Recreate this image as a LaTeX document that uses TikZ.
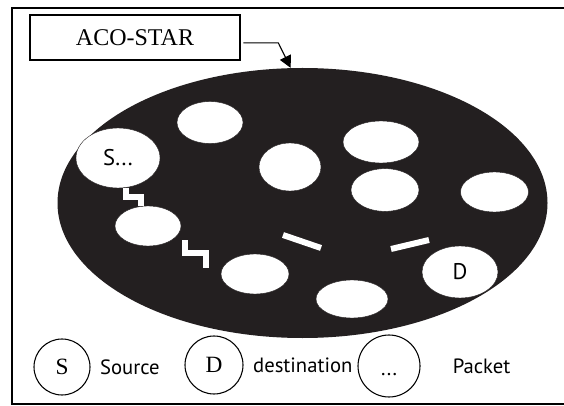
\documentclass[tikz,border=0pt]{standalone}
\usepackage{fontspec}
\setmainfont{Liberation Serif}
\newfontfamily\legfont{PT Sans}
\usetikzlibrary{shapes.geometric,arrows.meta,positioning}
\definecolor{blob}{HTML}{231F20}

\begin{document}
\begin{tikzpicture}[x=0.75pt,y=-0.75pt]
    \tikzset{hole/.style={ellipse,fill=white,draw=blob,line width=0.3pt,inner sep=0pt,
            font=\legfont\fontsize{17}{20}\selectfont},
        key/.style={circle,draw,line width=0.8pt,minimum size=42pt,inner sep=0pt,
            font=\fontsize{17.5}{20}\selectfont},
        keytext/.style={inner sep=0pt,font=\legfont\fontsize{15.5}{18}\selectfont},
        hop/.style={draw=white,line width=4.5pt},
        pointer/.style={-{Triangle[length=9pt,width=9pt]},line width=0.8pt}}
    \useasboundingbox (0,0) rectangle (564,406);
    \draw[line width=1pt] (566,8) -| (12,404) -- (566,404);
    \node[draw,line width=0.9pt,minimum width=157.5pt,minimum height=33.75pt,
        font=\fontsize{18}{21}\selectfont] (title) at (135,37.5) {ACO-STAR};
    \node[ellipse,fill=blob,minimum width=367.5pt,minimum height=202.5pt,inner sep=0pt] (net) at (302.5,203) {};
    \draw[pointer] ([xshift=2pt,yshift=-4pt]title.east) -- ++(35,0) -- (net.95);
    \node[hole,minimum width=49.5pt,minimum height=31.5pt] (h1) at (210,122.5) {};
    \node[hole,minimum width=63pt,minimum height=45pt] (s) at (118,158) {S...};
    \node[hole,minimum width=46.5pt,minimum height=36pt] (h3) at (290,167) {};
    \node[hole,minimum width=57pt,minimum height=31.5pt] (h4) at (381,142) {};
    \node[hole,minimum width=51pt,minimum height=32pt] (h5) at (385,190) {};
    \node[hole,minimum width=51pt,minimum height=30pt] (h6) at (494.5,192) {};
    \node[hole,minimum width=49.5pt,minimum height=30pt] (h7) at (148,226) {};
    \node[hole,minimum width=51pt,minimum height=30pt] (h8) at (255,274) {};
    \node[hole,minimum width=54pt,minimum height=28.5pt] (h9) at (352,299) {};
    \node[hole,minimum width=57pt,minimum height=39pt] (d) at (460,272) {D};
    \coordinate (z1) at (185,240);
    \coordinate (z2) at (206,268);
    \coordinate (b1) at (283,235);
    \coordinate (b2) at (321,248);
    \coordinate (b3) at (391,249);
    \coordinate (b4) at (429,240);
    \draw[hop] (s.-75) -- ++(0,9) -| (h7.110);
    \draw[hop] (z1) -- ++(0,13) -| (z2);
    \draw[hop] (b1) -- (b2);
    \draw[hop] (b3) -- (b4);
    \node[key] (ks) at (62,367) {S};
    \node[keytext,right=7pt of ks] (kst) {Source};
    \node[key,minimum size=43.5pt] (kd) at (214,365) {D};
    \node[keytext,right=7pt of kd] (kdt) {destination};
    \node[key,minimum size=46.5pt,font=\legfont\fontsize{15.5}{18}\selectfont,
        text height=14pt,text depth=0pt] (kp) at (389,366) {...};
    \node[keytext,right=24pt of kp] (kpt) {Packet};
\end{tikzpicture}
\end{document}
